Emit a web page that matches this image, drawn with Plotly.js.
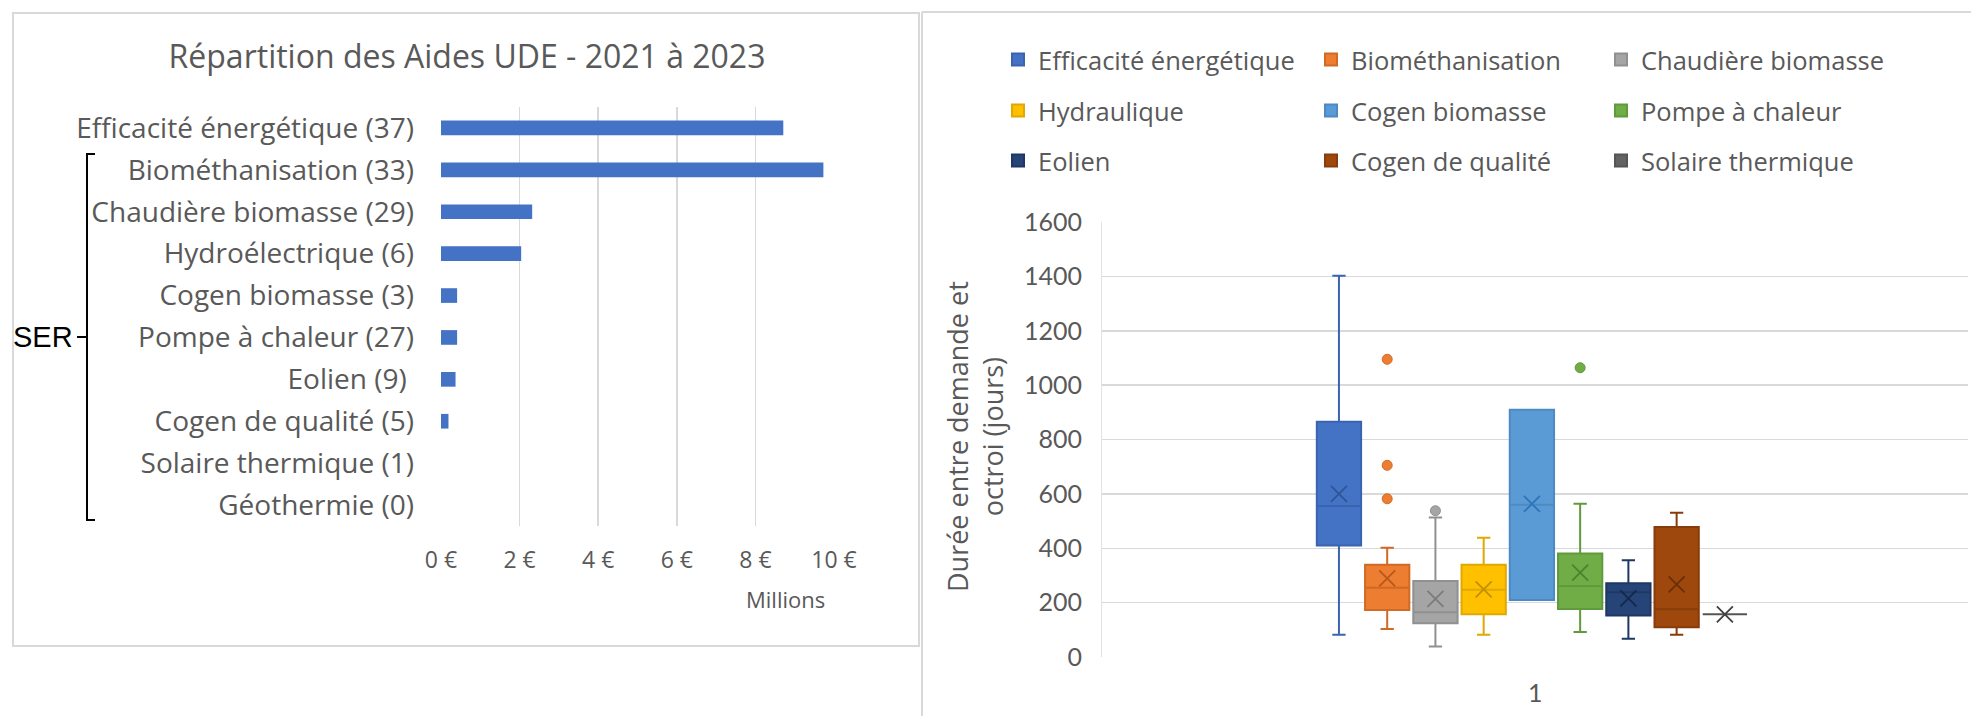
<!DOCTYPE html>
<html>
<head>
<meta charset="utf-8">
<script src="https://cdn.plot.ly/plotly-3.0.1.min.js"></script>
<style>
html, body { margin: 0; padding: 0; background: #ffffff; }
#chart { width: 1971px; height: 716px; }
</style>
</head>
<body>
<div id="chart"></div>
<script>
// ---------- Left chart: Répartition des Aides UDE (millions €) ----------
const barCategories = [
  'Efficacité énergétique (37)',
  'Biométhanisation (33)',
  'Chaudière biomasse (29)',
  'Hydroélectrique (6)',
  'Cogen biomasse (3)',
  'Pompe à chaleur (27)',
  'Eolien (9)\u00a0',
  'Cogen de qualité (5)',
  'Solaire thermique (1)',
  'Géothermie (0)'
];
const aidesMillions = [8.71, 9.73, 2.32, 2.04, 0.41, 0.41, 0.37, 0.19, 0, 0];
const barTickVals = [0, 2, 4, 6, 8, 10];
const barTickText = barTickVals.map(v => v + ' €');

// ---------- Right chart: Durée entre demande et octroi (jours) ----------
const series = [
  'Efficacité énergétique', 'Biométhanisation', 'Chaudière biomasse',
  'Hydraulique', 'Cogen biomasse', 'Pompe à chaleur',
  'Eolien', 'Cogen de qualité', 'Solaire thermique'
];
const lowerFence = [82, 103, 39, 82, 210, 92, 67, 82, 157];
const q1Values   = [410, 173, 124, 157, 210, 177, 153, 109, 157];
const medians    = [555, 255, 165, 247, 560, 261, 238, 176, 157];
const q3Values   = [865, 339, 280, 339, 909, 381, 271, 478, 157];
const upperFence = [1402, 402, 513, 439, 909, 564, 356, 531, 157];
const means      = [600, 289, 214, 249, 563, 310, 216, 267, 157];
const outlierSeries = ['Biométhanisation', 'Biométhanisation', 'Biométhanisation', 'Chaudière biomasse', 'Pompe à chaleur'];
const outlierValues = [1095, 705, 582, 538, 1064];
const boxTicks = [0, 200, 400, 600, 800, 1000, 1200, 1400, 1600];
const boxCategoryLabel = '1';
const boxYTitle = 'Durée entre demande et<br>octroi (jours)';

// ---------- Styles ----------
const fillColors = ['#4472C4', '#ED7D31', '#A5A5A5', '#FFC000', '#5B9BD5', '#70AD47', '#264478', '#9E480E', '#636363'];
const lineColors = ['#3A64B0', '#D06A25', '#909090', '#E0A800', '#4D8AC4', '#5F9A3B', '#1E3863', '#873C0B', '#555555'];
const meanColors = ['#2F5597', '#B65A1C', '#7B7B7B', '#BF9000', '#2E75B6', '#4F8030', '#14284A', '#6B2F08', '#404040'];

const W = 1971, H = 716;
const px = x => x / W;
const py = y => 1 - y / H;
const TXT = '#595959';
const FONT = '"Open Sans", Lato, sans-serif';
const FONT_NUM = 'Lato, "Open Sans", sans-serif';

const traces = [];

traces.push({
  type: 'bar', orientation: 'h',
  y: barCategories, x: aidesMillions,
  marker: { color: '#4472C4' },
  xaxis: 'x', yaxis: 'y', showlegend: false, hoverinfo: 'x+y'
});

const legendIds = ['legend', 'legend2', 'legend3', 'legend4', 'legend5', 'legend6', 'legend7', 'legend8', 'legend9'];

series.forEach((s, i) => {
  traces.push({
    type: 'box', name: s, x: [s],
    q1: [q1Values[i]], median: [medians[i]], q3: [q3Values[i]],
    lowerfence: [lowerFence[i]], upperfence: [upperFence[i]],
    fillcolor: fillColors[i],
    line: { color: lineColors[i], width: 2 },
    whiskerwidth: 0.3, width: 0.918, boxpoints: false,
    xaxis: 'x2', yaxis: 'y2', legend: legendIds[i]
  });
});

traces.push({
  type: 'scatter', mode: 'markers', x: series, y: means,
  marker: { symbol: 'x-thin-open', size: 16, color: meanColors, line: { width: 1.8, color: meanColors } },
  xaxis: 'x2', yaxis: 'y2', showlegend: false
});

traces.push({
  type: 'scatter', mode: 'markers', x: outlierSeries, y: outlierValues,
  marker: { symbol: 'circle', size: 10, color: outlierSeries.map(s => fillColors[series.indexOf(s)]),
            line: { width: 1, color: outlierSeries.map(s => lineColors[series.indexOf(s)]) } },
  xaxis: 'x2', yaxis: 'y2', showlegend: false
});

const legendColX = [998, 1311, 1601];
const legendRowY = [60, 111, 161];
const layout = {
  width: W, height: H,
  margin: { l: 0, r: 0, t: 0, b: 0 },
  paper_bgcolor: '#ffffff', plot_bgcolor: 'rgba(0,0,0,0)',
  font: { family: FONT, color: TXT },
  title: {
    text: 'Répartition des Aides UDE - 2021 à 2023',
    x: px(467), xanchor: 'center', xref: 'paper',
    y: py(57), yanchor: 'middle', yref: 'paper',
    font: { family: FONT, size: 32, color: TXT }
  },
  bargap: 0.65,
  xaxis: {
    domain: [px(441), px(834)], anchor: 'y',
    range: [0, 10], tickvals: barTickVals, ticktext: barTickText,
    showgrid: true, gridcolor: '#D9D9D9', gridwidth: 1.5,
    zeroline: false, showline: false,
    tickfont: { family: FONT, size: 23, color: TXT },
    ticklabelstandoff: 18, fixedrange: true
  },
  yaxis: {
    domain: [py(526), py(107)], anchor: 'x',
    type: 'category', autorange: 'reversed',
    showgrid: false, zeroline: false, showline: false,
    tickfont: { family: FONT, size: 28, color: TXT },
    ticklabelstandoff: 26, fixedrange: true
  },
  xaxis2: {
    domain: [px(1102), px(1968)], anchor: 'y2',
    type: 'category', range: [-4.912, 13.04],
    showticklabels: false, showgrid: false, zeroline: false, showline: false,
    fixedrange: true
  },
  yaxis2: {
    domain: [py(657), py(222)], anchor: 'x2',
    range: [0, 1600], tickvals: boxTicks,
    showgrid: true, gridcolor: '#D9D9D9', gridwidth: 1.5,
    zeroline: false, showline: true, linecolor: '#E3E3E3', linewidth: 1,
    tickfont: { family: FONT_NUM, size: 25, color: TXT },
    ticklabelstandoff: 14,
    fixedrange: true
  },
  shapes: [
    { type: 'rect', xref: 'paper', yref: 'paper', x0: px(13), x1: px(919), y0: py(646), y1: py(13),
      line: { color: '#D9D9D9', width: 2 }, fillcolor: 'rgba(0,0,0,0)' },
    { type: 'line', xref: 'paper', yref: 'paper', x0: px(922), x1: px(922), y0: py(12), y1: py(716),
      line: { color: '#D9D9D9', width: 2 } },
    { type: 'line', xref: 'paper', yref: 'paper', x0: px(922), x1: px(1971), y0: py(12), y1: py(12),
      line: { color: '#D9D9D9', width: 2 } },
    // SER bracket
    { type: 'path', xref: 'paper', yref: 'paper',
      path: `M ${px(95)},${py(154)} L ${px(87)},${py(154)} L ${px(87)},${py(520)} L ${px(95)},${py(520)}`,
      line: { color: '#000000', width: 2 } },
    { type: 'line', xref: 'paper', yref: 'paper', x0: px(77), x1: px(87), y0: py(337), y1: py(337),
      line: { color: '#000000', width: 2 } }
  ],
  annotations: [
    { text: 'SER', xref: 'paper', yref: 'paper', x: px(11), xanchor: 'left', y: py(337), yanchor: 'middle',
      showarrow: false, font: { family: '"Liberation Sans", Arial, sans-serif', size: 29, color: '#000000' } },
    { text: 'Millions', xref: 'paper', yref: 'paper', x: px(785), xanchor: 'center', y: py(599), yanchor: 'middle',
      showarrow: false, font: { family: FONT, size: 22, color: TXT } },
    { text: boxCategoryLabel, xref: 'paper', yref: 'paper', x: px(1535), xanchor: 'center', y: py(692), yanchor: 'middle',
      showarrow: false, font: { family: FONT_NUM, size: 25, color: TXT } },
    { text: boxYTitle, xref: 'paper', yref: 'paper', x: px(975), xanchor: 'center', y: py(437), yanchor: 'middle',
      textangle: -90, showarrow: false, font: { family: FONT, size: 27, color: TXT } }
  ]
};

legendIds.forEach((id, i) => {
  layout[id] = {
    x: px(legendColX[i % 3]), xanchor: 'left',
    y: py(legendRowY[Math.floor(i / 3)]), yanchor: 'middle',
    orientation: 'h', bgcolor: 'rgba(0,0,0,0)', borderwidth: 0,
    font: { family: FONT, size: 25.5, color: TXT }
  };
});

Plotly.newPlot('chart', traces, layout, { displayModeBar: false, staticPlot: true });
</script>
</body>
</html>
